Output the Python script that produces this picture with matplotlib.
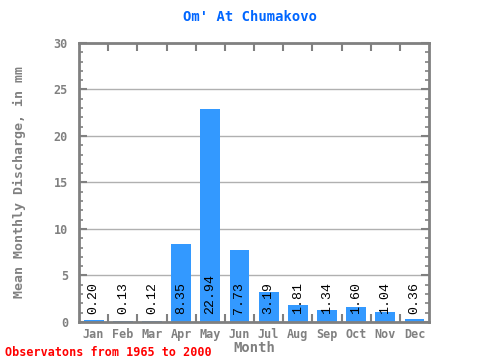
import numpy as np
import matplotlib.pyplot as plt
from matplotlib.ticker import MultipleLocator

months = ['Jan', 'Feb', 'Mar', 'Apr', 'May', 'Jun', 'Jul', 'Aug', 'Sep', 'Oct', 'Nov', 'Dec']
discharge = [0.20, 0.13, 0.12, 8.35, 22.94, 7.73, 3.19, 1.81, 1.34, 1.60, 1.04, 0.36]

gray = '#808080'
font = 'DejaVu Sans Mono'

fig = plt.figure(figsize=(4.8, 3.6), dpi=100)
ax = fig.add_axes([0.1646, 0.1056, 0.7292, 0.775])

x = np.arange(len(months))
ax.bar(x, discharge, width=0.68, color='#3399ff', zorder=2)
for xi, v in zip(x, discharge):
    ax.text(xi, 0.85, '%.2f' % v, rotation=90, ha='center', va='bottom',
            fontsize=9.5, family='Liberation Mono', color='black', zorder=3)

ax.set_xlim(-0.5, 11.5)
ax.set_ylim(0, 30)
ax.yaxis.set_major_locator(MultipleLocator(5))
ax.yaxis.set_minor_locator(MultipleLocator(1))
ax.set_xticks(x)
ax.set_xticks(np.arange(0.5, 11, 1), minor=True)
ax.set_xticklabels(months)
ax.grid(axis='y', color='#b0b0b0', lw=1, zorder=1)

ax.tick_params(axis='x', which='major', length=0, pad=4)
ax.tick_params(axis='x', which='minor', direction='in', length=6, width=1.5,
               color=gray, top=True, bottom=True)
ax.tick_params(axis='y', which='major', direction='in', length=6, width=1.5,
               color=gray, left=True, right=True, pad=8)
ax.tick_params(axis='y', which='minor', direction='in', length=3, width=1.2,
               color=gray, left=True, right=True)
for lab in ax.get_xticklabels() + ax.get_yticklabels():
    lab.set_family(font)
    lab.set_fontsize(8.5)
    lab.set_color(gray)
    lab.set_fontweight('bold')

for s in ax.spines.values():
    s.set_color(gray)
    s.set_linewidth(2)

ax.set_xlabel('Month', family=font, fontsize=10, fontweight='bold', color=gray, labelpad=0)
ax.set_ylabel('Mean Monthly Discharge, in mm', family=font, fontsize=9.5,
              fontweight='bold', color=gray, labelpad=20)
fig.text(0.52, 0.952, "Om' At Chumakovo", ha='center', va='center', family=font,
         fontsize=10, fontweight='bold', color='#0066ff')
fig.text(0.01, 0.022, 'Observatons from 1965 to 2000', ha='left', va='center',
         family=font, fontsize=8.5, fontweight='bold', color='red')

plt.savefig('out.png', dpi=100)
